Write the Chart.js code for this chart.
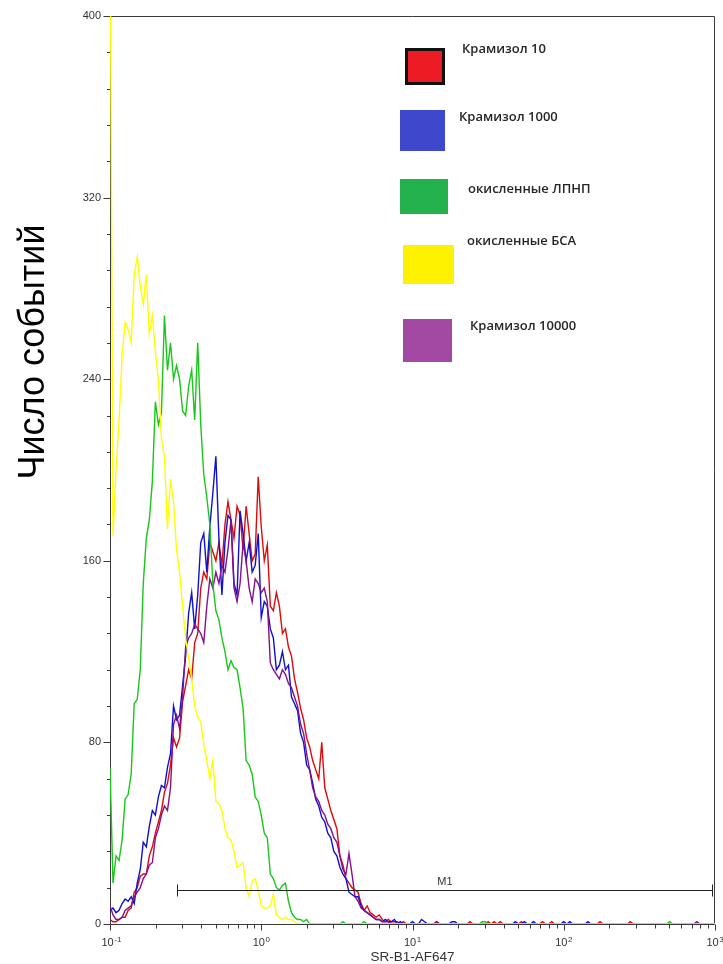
<!DOCTYPE html>
<html>
<head>
<meta charset="utf-8">
<script src="https://cdn.jsdelivr.net/npm/chart.js@4.4.0/dist/chart.umd.min.js"></script>
<style>
  html, body { margin: 0; padding: 0; background: #fff; }
  #wrap { width: 723px; height: 964px; }
</style>
</head>
<body>
<div id="wrap"><canvas id="histo" width="723" height="964"></canvas></div>
<script>
// Histogram channels: log-spaced bins, 50 per decade, first bin at 10^-1
var LOG_START = -1;
var LOG_STEP = 0.02;

// Event counts per channel (201 channels, 10^-1 .. 10^3)
var yellowCounts = [
  460,171,200,222,250,265,262,256,286,294,
  281,273,286,260,268,252,240,214,206,174,
  196,186,165,155,140,126,117,108,96,91,
  89,79,72,64,72,54,53,50,42,38,
  37,32,25,26,27,16,12,19,20,15,
  8,7,7,8,13,4,3,2,3,2,
  2,1,0,0,0,0,0,0,0,0,
  0,0,0,0,0,0,0,0,0,0,
  0,0,0,0,0,0,0,0,0,0,
  0,0,0,0,0,0,0,0,0,0,
  0,
  0,0,0,0,0,0,0,0,0,0,0,0,0,0,0,0,0,0,0,0,
  0,0,0,0,0,0,0,0,0,0,0,0,0,0,0,0,0,0,0,0,
  0,0,0,0,0,0,0,0,0,0,0,0,0,0,0,0,0,0,0,0,
  0,0,0,0,0,0,0,0,0,0,0,0,0,0,0,0,0,0,0,0,
  0,0,0,0,0,0,0,0,0,0,0,0,0,0,0,0,0,0,0,0
];

var greenCounts = [
  69,18,30,28,37,55,57,66,97,99,
  112,150,170,178,195,230,220,225,268,244,
  256,240,246,240,226,224,237,244,222,256,
  220,198,188,176,150,138,134,126,120,112,
  116,113,112,104,95,72,70,66,56,54,
  48,40,38,22,20,16,15,17,18,10,
  5,3,2,2,1,2,0,0,0,0,
  0,0,0,0,0,0,0,1,0,0,
  0,0,0,0,1,0,0,0,0,0,
  0,0,0,0,0,0,0,0,0,0,
  0,
  0,0,0,0,0,0,0,0,0,0,0,0,0,0,0,0,0,0,0,0,
  0,0,1,1,0,0,0,0,0,0,0,0,0,0,0,0,0,0,0,0,
  0,0,0,0,0,0,0,0,0,0,0,0,0,0,0,0,0,0,0,0,
  0,0,0,0,0,0,0,0,0,0,0,0,0,0,0,0,0,0,0,0,
  0,0,0,0,1,0,0,0,0,0,0,0,0,0,0,0,0,0,0,0
];

var purpleCounts = [
  8,4,2,2,3,6,7,8,12,14,
  16,20,22,26,27,38,42,48,52,50,
  60,88,92,86,100,122,126,128,132,130,
  128,124,140,152,148,155,150,158,155,165,
  178,148,142,150,168,160,148,142,152,150,
  146,148,142,115,112,110,108,112,110,106,
  104,100,96,88,84,75,68,60,56,54,
  50,48,44,42,38,36,30,24,22,31,
  22,12,10,7,6,5,4,3,2,2,
  1,1,1,0,0,0,0,0,0,0,
  0,
  0,0,0,0,0,0,0,1,0,0,0,0,0,0,0,0,0,0,0,0,
  0,0,0,0,0,0,0,0,0,0,0,0,0,0,0,0,0,0,0,0,
  0,0,0,0,0,0,0,0,0,0,0,0,0,0,0,0,0,0,0,0,
  0,0,0,0,0,0,0,0,0,0,0,0,0,0,0,0,0,0,0,0,
  0,0,0,0,0,0,0,0,0,0,0,0,0,1,0,0,0,0,0,0
];

var blueCounts = [
  6,7,5,6,9,11,10,12,9,18,
  24,36,34,43,50,48,56,61,60,69,
  75,96,90,92,105,118,137,146,130,145,
  168,172,155,175,190,206,170,145,168,180,
  178,150,145,182,172,160,168,155,158,172,
  135,142,140,130,126,112,114,120,112,114,
  100,97,94,84,80,70,68,62,55,52,
  47,45,40,38,32,30,25,22,20,14,
  13,12,12,8,6,5,4,3,2,2,
  1,2,1,1,2,0,1,0,0,0,
  1,
  0,0,2,1,0,0,0,0,0,0,0,0,1,1,0,0,0,0,0,0,
  0,0,0,0,0,0,0,0,0,0,0,0,0,1,0,0,1,0,0,1,
  0,0,0,0,0,0,0,0,0,1,0,1,0,0,0,0,0,1,0,0,
  0,0,0,0,0,0,0,0,0,0,0,0,0,0,0,0,0,0,0,0,
  0,0,0,0,0,0,0,0,0,0,0,0,0,0,0,0,0,0,0,0
];

var redCounts = [
  2,1,1,2,3,3,6,7,14,16,
  21,22,22,30,34,40,45,50,58,62,
  70,82,78,82,98,105,112,108,124,128,
  148,155,152,168,164,160,168,158,176,186,
  178,170,184,180,165,184,172,160,163,197,
  175,160,167,140,138,146,140,128,130,122,
  118,108,102,95,90,82,78,72,68,64,
  80,60,55,50,46,42,30,26,20,18,
  16,15,14,9,6,8,5,4,3,4,
  2,1,2,1,1,1,0,1,0,0,
  0,
  0,0,0,0,0,0,0,1,0,0,0,0,0,0,0,0,0,0,1,0,
  0,0,0,0,1,0,1,0,1,0,0,0,0,0,0,1,0,0,0,0,
  0,0,1,0,0,1,0,0,0,0,0,0,0,0,0,0,0,0,0,0,
  0,1,0,0,0,0,0,0,0,0,0,1,0,0,0,0,0,0,0,0,
  0,0,0,0,0,0,0,0,0,0,0,0,0,0,0,0,0,0,0,0
];

var seriesLabels = ['Крамизол 10', 'Крамизол 1000', 'окисленные ЛПНП', 'окисленные БСА', 'Крамизол 10000'];
var xDecades = [0.1, 1, 10, 100, 1000];
var xExponents = ['-1', '0', '1', '2', '3'];
var xMinorSteps = [2, 3, 4, 5, 6, 7, 8, 9];
var yMax = 400;
var yMajorStep = 80;
var yMinorStep = 16;
var markerName = 'M1';
var markerRange = [0.276, 950];
var markerLevel = 15;
var xTitle = 'SR-B1-AF647';
var yTitle = 'Число событий';

// ---- styles ----
var FONT = '"Liberation Sans", Arial, sans-serif';
var AXIS_COLOR = '#3a3a3a';
var lineColors = { red: '#dd0a0a', blue: '#1010d0', green: '#18c818', yellow: '#ffff00', purple: '#85108a' };

// legend swatches drawn at the top right of the plot
var legendLayout = [
  { fill: '#ed1c24', box: [405, 48, 40, 37], edge: true, text: [462, 53] },
  { fill: '#3f48cc', box: [400, 110, 45, 41], text: [459, 121] },
  { fill: '#22b14c', box: [400, 179, 48, 35], text: [468, 193] },
  { fill: '#fff200', box: [403, 245, 51, 39], text: [467, 245] },
  { fill: '#a349a4', box: [403, 319, 49, 43], text: [470, 330] }
];

function toPoints(counts) {
  return counts.map(function(c, i) {
    return { x: Math.pow(10, LOG_START + i * LOG_STEP), y: c };
  });
}

function series(label, counts, color) {
  return {
    label: label,
    data: toPoints(counts),
    borderColor: color,
    backgroundColor: 'transparent',
    borderWidth: 1.4,
    pointRadius: 0,
    tension: 0,
    fill: false
  };
}

// frame, tick marks, axis labels, marker and legend
var decorations = {
  id: 'facsDecorations',
  beforeDatasetsDraw: function(chart) {
    var ctx = chart.ctx, a = chart.chartArea, x = chart.scales.x, y = chart.scales.y;
    var L = Math.round(a.left) + 0.5, R = Math.round(a.right) - 0.5;
    var T = Math.round(a.top) + 0.5, B = Math.round(a.bottom) + 0.5;
    ctx.save();
    ctx.strokeStyle = AXIS_COLOR;
    ctx.lineWidth = 1;
    ctx.beginPath();
    ctx.rect(L, T, R - L, B - T);
    // y ticks
    for (var v = 0; v <= yMax; v += yMinorStep) {
      var py = Math.round(y.getPixelForValue(v)) + 0.5;
      var len = v % yMajorStep === 0 ? 7 : 3.5;
      ctx.moveTo(L - len, py);
      ctx.lineTo(L, py);
    }
    // x ticks
    xDecades.forEach(function(d, k) {
      var px = Math.round(x.getPixelForValue(d)) + 0.5;
      ctx.moveTo(px, B);
      ctx.lineTo(px, B + 6);
      if (k < xDecades.length - 1) {
        xMinorSteps.forEach(function(m) {
          var qx = Math.round(x.getPixelForValue(d * m)) + 0.5;
          ctx.moveTo(qx, B);
          ctx.lineTo(qx, B + 4);
        });
      }
    });
    ctx.stroke();

    // x tick labels, 10 with a raised exponent
    ctx.fillStyle = '#333';
    ctx.textBaseline = 'alphabetic';
    ctx.textAlign = 'left';
    xDecades.forEach(function(d, k) {
      var px = x.getPixelForValue(d);
      ctx.font = '11px ' + FONT;
      var w = ctx.measureText('10').width;
      ctx.fillText('10', px - 8.5, 945.5);
      ctx.font = '8px ' + FONT;
      ctx.fillText(xExponents[k], px - 8.5 + w + 0.5, 941.5);
    });

    // y axis title
    ctx.save();
    ctx.translate(34, 352);
    ctx.rotate(-Math.PI / 2);
    ctx.font = '36px ' + FONT;
    ctx.fillStyle = '#000';
    ctx.textAlign = 'center';
    ctx.textBaseline = 'middle';
    ctx.fillText(yTitle, 0, 0);
    ctx.restore();
    ctx.restore();
  },
  afterDatasetsDraw: function(chart) {
    var ctx = chart.ctx, x = chart.scales.x, y = chart.scales.y;
    ctx.save();
    // marker gate
    var x0 = Math.round(x.getPixelForValue(markerRange[0])) + 0.5;
    var x1 = Math.round(x.getPixelForValue(markerRange[1])) + 0.5;
    var my = Math.round(y.getPixelForValue(markerLevel)) + 0.5;
    ctx.strokeStyle = '#222';
    ctx.lineWidth = 1;
    ctx.beginPath();
    ctx.moveTo(x0, my); ctx.lineTo(x1, my);
    ctx.moveTo(x0, my - 6); ctx.lineTo(x0, my + 6);
    ctx.moveTo(x1, my - 6); ctx.lineTo(x1, my + 6);
    ctx.stroke();
    ctx.fillStyle = '#333';
    ctx.font = '11px ' + FONT;
    ctx.textAlign = 'center';
    ctx.textBaseline = 'alphabetic';
    ctx.fillText(markerName, (x0 + x1) / 2, 885);

    // legend
    legendLayout.forEach(function(e, k) {
      var b = e.box;
      ctx.fillStyle = e.fill;
      ctx.fillRect(b[0], b[1], b[2], b[3]);
      if (e.edge) {
        ctx.strokeStyle = '#111';
        ctx.lineWidth = 3;
        ctx.strokeRect(b[0] + 1.5, b[1] + 1.5, b[2] - 3, b[3] - 3);
      }
      ctx.fillStyle = '#262626';
      ctx.font = '600 13px "Open Sans", sans-serif';
      ctx.textAlign = 'left';
      ctx.fillText(seriesLabels[k], e.text[0], e.text[1]);
    });
    ctx.restore();
  }
};

Chart.defaults.font.family = FONT;

new Chart(document.getElementById('histo').getContext('2d'), {
  type: 'line',
  data: {
    datasets: [
      series(seriesLabels[3], yellowCounts, lineColors.yellow),
      series(seriesLabels[2], greenCounts, lineColors.green),
      series(seriesLabels[4], purpleCounts, lineColors.purple),
      series(seriesLabels[1], blueCounts, lineColors.blue),
      series(seriesLabels[0], redCounts, lineColors.red)
    ]
  },
  options: {
    responsive: false,
    animation: false,
    devicePixelRatio: 1,
    layout: { padding: { left: 10, right: 8, top: 16, bottom: 0 } },
    plugins: {
      legend: { display: false },
      tooltip: { enabled: false }
    },
    scales: {
      x: {
        type: 'logarithmic',
        min: xDecades[0],
        max: xDecades[xDecades.length - 1],
        grid: { display: false },
        border: { display: false },
        ticks: { display: false },
        title: {
          display: true,
          text: xTitle,
          color: '#333',
          font: { size: 13.5, lineHeight: 1 },
          padding: { top: 0, bottom: 0 }
        },
        afterFit: function(scale) { scale.height = 40; }
      },
      y: {
        min: 0,
        max: yMax,
        grid: { display: false, drawTicks: false },
        border: { display: false },
        ticks: { stepSize: yMajorStep, padding: 9, color: '#333', font: { size: 11 } },
        afterFit: function(scale) { scale.width = 100; }
      }
    }
  },
  plugins: [decorations]
});
</script>
</body>
</html>
